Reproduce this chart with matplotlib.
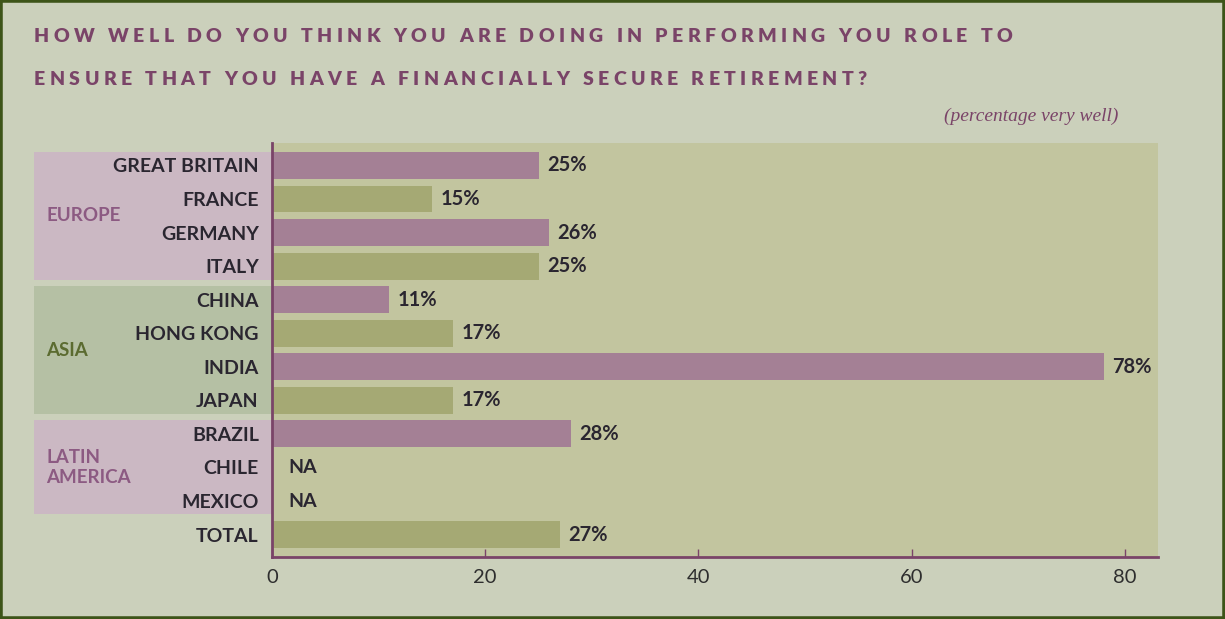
import matplotlib
matplotlib.use("Agg")
import matplotlib.pyplot as plt
import matplotlib.transforms as mtransforms
from matplotlib.patches import Rectangle
from matplotlib.font_manager import FontProperties

# survey data
countries = ["GREAT BRITAIN", "FRANCE", "GERMANY", "ITALY", "CHINA", "HONG KONG",
             "INDIA", "JAPAN", "BRAZIL", "CHILE", "MEXICO", "TOTAL"]
values = [25, 15, 26, 25, 11, 17, 78, 17, 28, None, None, 27]
region_names = ["EUROPE", "ASIA", "LATIN\nAMERICA"]
region_first = [0, 4, 8]
region_last = [3, 7, 10]
xticks = [0, 20, 40, 60, 80]

title_lines = ["HOW WELL DO YOU THINK YOU ARE DOING IN PERFORMING YOU ROLE TO",
               "ENSURE THAT YOU HAVE A FINANCIALLY SECURE RETIREMENT?"]
subtitle = "(percentage very well)"

# colours
BG = "#cbd0bb"
PLOT_BG = "#c2c59f"
PINK = "#a48095"
GREEN = "#a5a974"
BAND_PINK = "#cbb8c3"
BAND_GREEN = "#b5c0a4"
PURPLE = "#7a4468"
DARK = "#2a2630"
BORDER = "#3d5418"

W, H = 1225, 619
fig = plt.figure(figsize=(W / 100, H / 100), dpi=100, facecolor=BG)
ax = fig.add_axes([272 / W, 1 - 556.7 / H, (1158 - 272) / W, (556.7 - 143) / H])
ax.set_facecolor(PLOT_BG)

rows = list(range(len(countries)))
colors = [PINK if i % 2 == 0 else GREEN for i in rows]
bar_vals = [v if v is not None else 0 for v in values]
ax.barh(rows, bar_vals, height=0.8, color=colors, zorder=2)

for i, v in enumerate(values):
    if v is None:
        ax.annotate("NA", (0, i), xytext=(12, 0), textcoords="offset points",
                    va="center", ha="left", fontsize=14, fontweight="bold",
                    family="Lato", color=DARK)
    else:
        ax.annotate(f"{v}%", (v, i), xytext=(6, 0), textcoords="offset points",
                    va="center", ha="left", fontsize=14.5, fontweight="bold",
                    family="Lato", color=DARK)

ax.set_xlim(0, 83.1)
ax.set_ylim(11.66, -0.67)
ax.set_yticks(rows)
ax.set_yticklabels(countries, fontsize=14, fontweight="bold", family="Lato", color=DARK)
ax.tick_params(axis="y", length=0, pad=9.5)
ax.set_xticks(xticks)
ax.set_xticklabels([str(t) for t in xticks], fontsize=14.5, family="Lato", color="#2e2e2e")
ax.tick_params(axis="x", direction="in", length=6, width=1, color=PURPLE, pad=9)

for side in ["top", "right"]:
    ax.spines[side].set_visible(False)
for side in ["left", "bottom"]:
    ax.spines[side].set_color(PURPLE)
    ax.spines[side].set_linewidth(2)
    ax.spines[side].set_zorder(3)

# region bands left of the axis
band_tf = mtransforms.blended_transform_factory(fig.transFigure, ax.transData)
band_left = 34 / W
band_right = 272 / W
for k, name in enumerate(region_names):
    first, last = region_first[k], region_last[k]
    fc = BAND_GREEN if name == "ASIA" else BAND_PINK
    tc = "#5b6b30" if name == "ASIA" else "#8c5a82"
    ax.add_patch(Rectangle((band_left, first - 0.4), band_right - band_left,
                           (last - first) + 0.8, transform=band_tf, facecolor=fc,
                           edgecolor="none", clip_on=False, zorder=0))
    ax.text(46.6 / W, (first + last) / 2, name, transform=band_tf, va="center",
            ha="left", fontsize=13.5, fontweight="bold", family="Lato", color=tc,
            linespacing=1.2)

# letter-spaced title
renderer = fig.canvas.get_renderer()
title_fp = FontProperties(family="Lato", weight="heavy", size=14)


def text_width(s):
    t = fig.text(0, 0, s, fontproperties=title_fp)
    w = t.get_window_extent(renderer).width
    t.remove()
    return w


def spaced_text(x, y, s, tracking):
    ref = text_width("H")
    for i, ch in enumerate(s):
        if ch != " ":
            offset = text_width(s[:i] + "H") - ref if i else 0
            fig.text((x + offset + i * tracking) / W, 1 - y / H, ch,
                     fontproperties=title_fp, color=PURPLE, va="baseline", ha="left")


spaced_text(34, 42, title_lines[0], 4.4)
spaced_text(34, 85, title_lines[1], 4.4)

fig.text(1118 / W, 1 - 116 / H, subtitle, ha="right", va="center", fontsize=14,
         style="italic", family="Liberation Serif", color=PURPLE)

# outer frame
fig.patches.append(Rectangle((0, 0), 1, 1, transform=fig.transFigure, fill=False,
                             edgecolor=BORDER, linewidth=4))

fig.savefig("out.png", dpi=100, facecolor=BG)
plt.close(fig)
